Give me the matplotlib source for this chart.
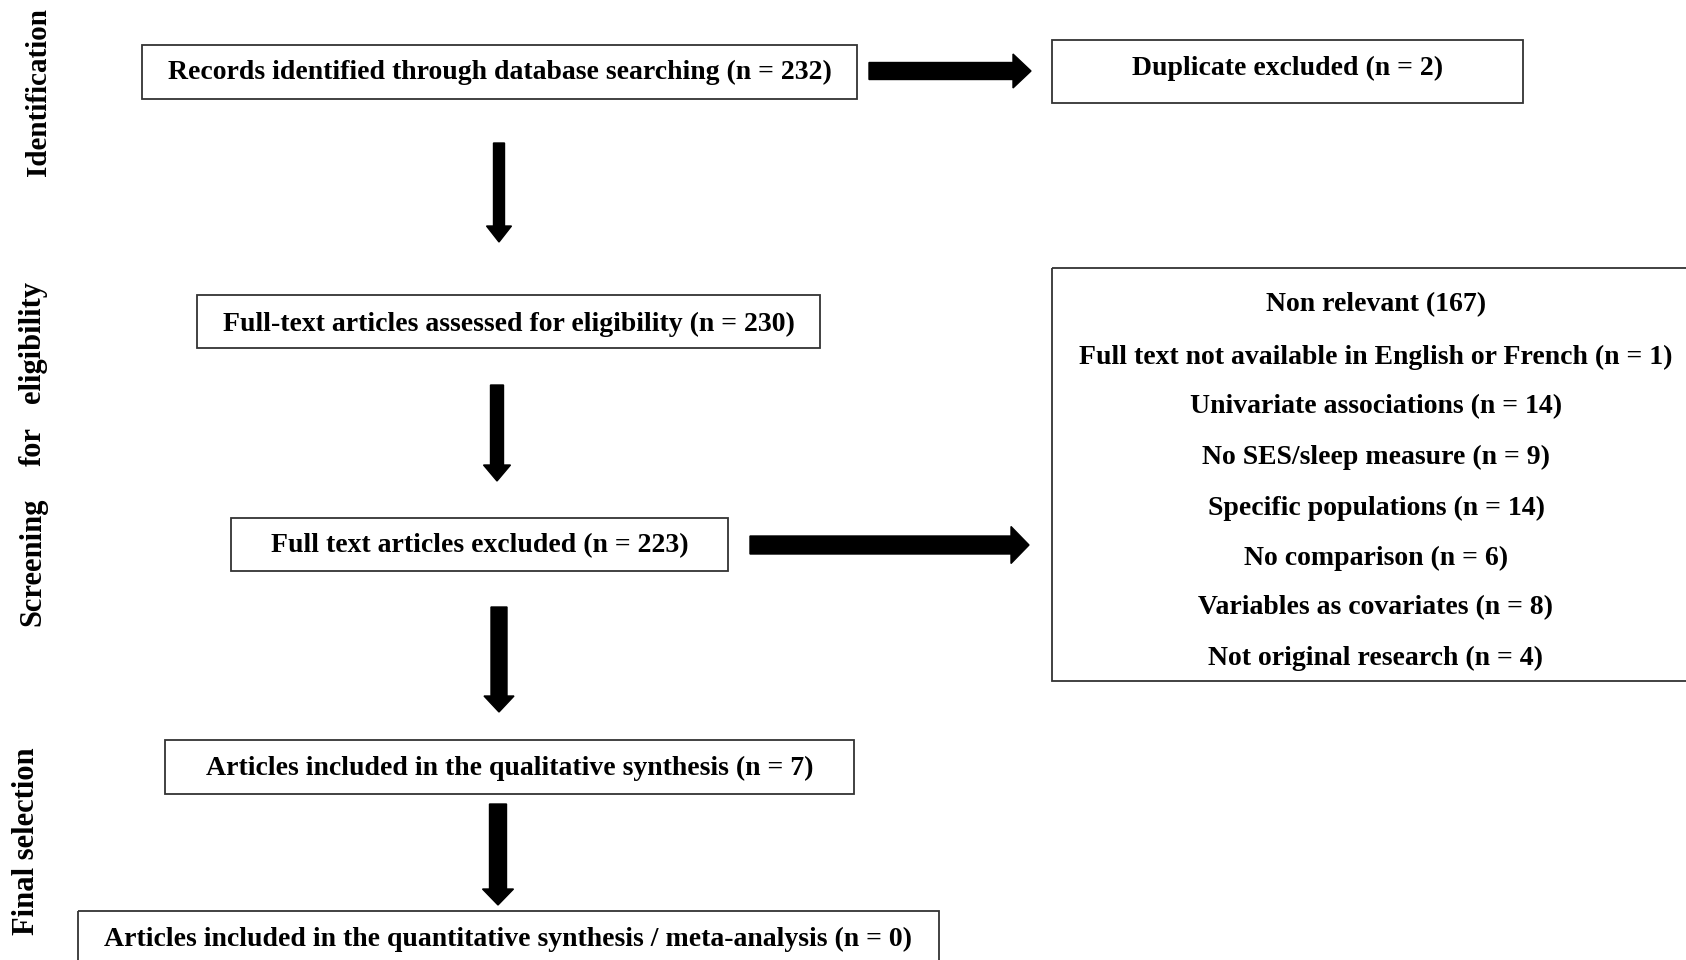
import matplotlib.pyplot as plt
from matplotlib.patches import Rectangle, FancyArrow

# flow boxes: text, (x0, y0, x1, y1) in pixel space
box_texts = [
    "Records identified through database searching (n = 232)",
    "Duplicate excluded (n = 2)",
    "Full-text articles assessed for eligibility (n = 230)",
    "Full text articles excluded (n = 223)",
    "Articles included in the qualitative synthesis (n = 7)",
    "Articles included in the quantitative synthesis / meta-analysis (n = 0)",
]
box_extents = [
    (142, 45, 857, 99),
    (1052, 40, 1523, 103),
    (197, 295, 820, 348),
    (231, 518, 728, 571),
    (165, 740, 854, 794),
    (78, 911, 939, 975),
]
box_text_y = [72, 68, 324, 546, 768, 939]

reasons = [
    "Non relevant (167)",
    "Full text not available in English or French (n = 1)",
    "Univariate associations (n = 14)",
    "No SES/sleep measure (n = 9)",
    "Specific populations (n = 14)",
    "No comparison (n = 6)",
    "Variables as covariates (n = 8)",
    "Not original research (n = 4)",
]
reason_y = [305, 357, 407, 457, 508, 558, 608, 658]

stage_labels = ["Identification", "Screening", "for", "eligibility", "Final selection"]
stage_pos = [(39, 92), (33, 562), (33, 447), (33, 342), (27, 841)]
stage_size = [21, 22, 22, 22, 22]

plt.rcParams['font.family'] = ['Liberation Serif', 'DejaVu Serif']

fig = plt.figure(figsize=(16.86, 9.6), dpi=100)
ax = fig.add_axes([0, 0, 1, 1])
ax.set_xlim(0, 1686)
ax.set_ylim(960, 0)
ax.axis("off")

for text, (x0, y0, x1, y1), ty in zip(box_texts, box_extents, box_text_y):
    ax.add_patch(Rectangle((x0, y0), x1 - x0, y1 - y0, fill=False,
                           edgecolor="#333333", linewidth=1.3))
    ax.text((x0 + x1) / 2, ty, text, ha="center", va="center",
            fontsize=20, fontweight="bold")

# reasons box (runs off the right edge)
ax.add_patch(Rectangle((1052, 268), 700, 413, fill=False,
                       edgecolor="#333333", linewidth=1.3))
for text, y in zip(reasons, reason_y):
    ax.text(1376, y, text, ha="center", va="center",
            fontsize=20, fontweight="bold")

for text, (x, y), fs in zip(stage_labels, stage_pos, stage_size):
    ax.text(x, y, text, ha="center", va="center", rotation=90,
            fontsize=fs, fontweight="bold")

# down arrows: x, y_start, y_end, shaft width, head width
down_arrows = [
    (499, 143, 242, 11, 25),
    (497, 385, 481, 13, 27),
    (499, 607, 712, 16, 30),
    (498, 804, 905, 17, 31),
]
for x, ys, ye, w, hw in down_arrows:
    ax.add_patch(FancyArrow(x, ys, 0, ye - ys, width=w, head_width=hw,
                            head_length=16, length_includes_head=True,
                            color="black"))

# right arrows: y, x_start, x_end, shaft width, head width
right_arrows = [
    (71, 869, 1031, 17, 34),
    (545, 750, 1029, 18, 37),
]
for y, xs, xe, w, hw in right_arrows:
    ax.add_patch(FancyArrow(xs, y, xe - xs, 0, width=w, head_width=hw,
                            head_length=18, length_includes_head=True,
                            color="black"))

plt.savefig("out.png", dpi=100)
